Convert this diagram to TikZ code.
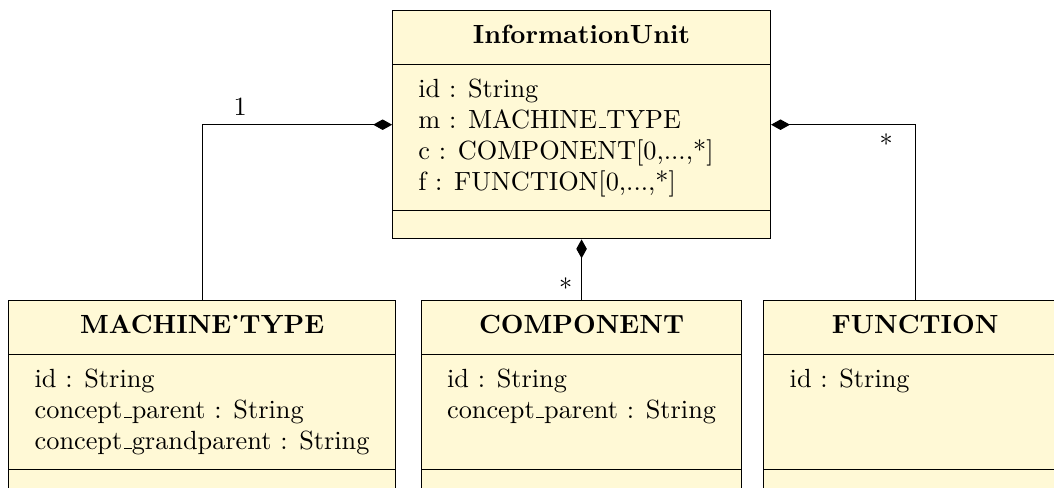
\documentclass[tikz,border=0pt]{standalone}
\usepackage{tikz}
\usetikzlibrary{arrows.meta, positioning, shapes.multipart}
\definecolor{umlfill}{RGB}{255,249,214}
\newcommand{\us}{\leavevmode\kern.06em\vbox{\hrule width.3em}}
\newcommand{\attrs}[1]{{\renewcommand{\arraystretch}{0.986}\begin{tabular}{@{}l@{}}#1\end{tabular}}}
\newcommand{\noops}{\rule{0pt}{2.3pt}}

\tikzset{
  umlclass/.style={draw, fill=umlfill, rectangle split, rectangle split parts=3,
    rectangle split part align={center,left,left},
    inner xsep=9.8pt, inner ysep=4pt},
  composition/.style={{Diamond[length=7.2pt, width=4pt]}-}
}

\begin{document}
\begin{tikzpicture}
  \useasboundingbox (0,0) rectangle (400.8pt,-185.5pt);
  \clip (0,0) rectangle (400.8pt,-185.5pt);

  % Classes
  \node[umlclass, minimum width=143.7pt, anchor=north] (unit) at (221.15pt,-3.8pt) {
    \strut\textbf{InformationUnit}
    \nodepart{two}\attrs{id : String\\ m : MACHINE\us TYPE\\ c : COMPONENT[0,...,*]\\ f : FUNCTION[0,...,*]}
    \nodepart{three}\noops
  };

  \node[umlclass, below=23.1pt of unit] (component) {
    \strut\textbf{COMPONENT}
    \nodepart{two}\attrs{id : String\\ concept\us parent : String\\ \mbox{}}
    \nodepart{three}\noops
  };

  \node[umlclass, left=9.5pt of component.north west, anchor=north east] (machine) {
    \strut\textbf{MACHINE˙TYPE}
    \nodepart{two}\attrs{id : String\\ concept\us parent : String\\ concept\us grandparent : String}
    \nodepart{three}\noops
  };

  \node[umlclass, minimum width=115pt, right=8pt of component.north east, anchor=north west] (function) {
    \strut\textbf{FUNCTION}
    \nodepart{two}\attrs{id : String\\ \\ \mbox{}}
    \nodepart{three}\noops
  };

  % Compositions
  \draw[composition] (unit.west) -| (machine.north) node[pos=0.4, above] (mult-m) {1};
  \draw[composition] (unit.south) -- (component.north) node[pos=0.8, left] (mult-c) {*};
  \draw[composition] (unit.east) -| (function.north) node[pos=0.4, below] (mult-f) {*};
\end{tikzpicture}
\end{document}
